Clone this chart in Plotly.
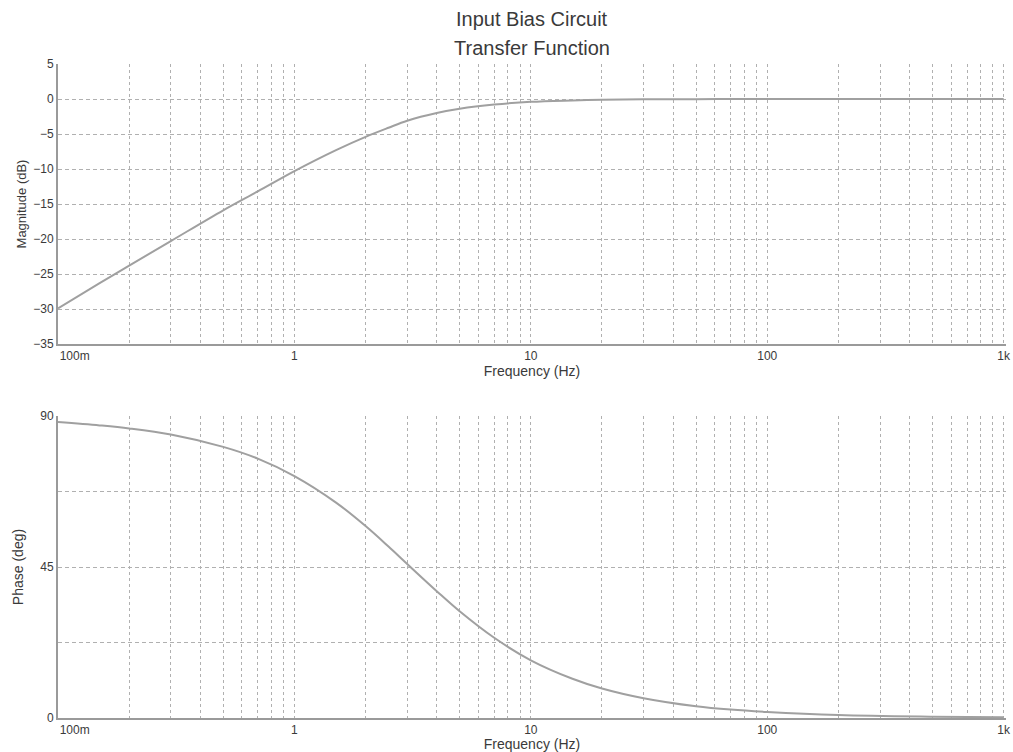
import plotly.graph_objects as go
from plotly.subplots import make_subplots

# Frequency response samples of the input bias network
freq_hz = [0.1, 0.15, 0.2, 0.3, 0.5, 0.7, 1, 1.5, 2, 2.5, 3, 4, 5, 7, 10, 15,
           20, 30, 50, 70, 100, 200, 500, 1000]
magnitude_db = [-29.9, -26.3, -23.8, -20.3, -15.9, -13.2, -10.3, -7.3, -5.4,
                -4.1, -3.1, -2.0, -1.4, -0.8, -0.4, -0.2, -0.1, -0.05, -0.02,
                -0.01, 0.0, 0.0, 0.0, 0.0]
phase_deg = [88.2, 87.2, 86.3, 84.5, 80.8, 77.3, 72.1, 64.2, 57.2, 51.1, 45.9,
             37.8, 31.8, 23.9, 17.2, 11.7, 8.8, 5.9, 3.5, 2.5, 1.8, 0.9, 0.4,
             0.2]

NBSP = "\u00a0"
x_tickvals = [0.1, 1, 10, 100, 1000]
x_ticktext = [NBSP * 10 + "100m", "1", "10", "100", "1k"]
x_minor = [m * d for d in (0.1, 1, 10, 100) for m in range(2, 10)]

mag_ticks = [5, 0, -5, -10, -15, -20, -25, -30, -35]
phase_ticks = [0, 45, 90]
phase_minor = [22.5, 67.5]

LINE = "#a0a0a0"
GRID = "#b0b0b0"
AXIS = "#9a9a9a"
TEXT = "#3a3a3a"
FONT = "Liberation Sans, Arial, sans-serif"
DASH_H = "4px,3px"
DASH_V = "3px,3px"

fig = make_subplots(rows=2, cols=1, vertical_spacing=0.11)

fig.add_trace(go.Scatter(x=freq_hz, y=magnitude_db, mode="lines",
                         line=dict(color=LINE, width=2, shape="spline"),
                         showlegend=False), row=1, col=1)
fig.add_trace(go.Scatter(x=freq_hz, y=phase_deg, mode="lines",
                         line=dict(color=LINE, width=2, shape="spline"),
                         showlegend=False), row=2, col=1)

xaxis_common = dict(
    type="log", range=[-1, 3.01], tickvals=x_tickvals, ticktext=x_ticktext,
    showgrid=True, gridcolor=GRID, griddash=DASH_V, gridwidth=1,
    minor=dict(tickvals=x_minor, showgrid=True, gridcolor=GRID,
               griddash=DASH_V, gridwidth=1, ticks=""),
    showline=True, linecolor=AXIS, linewidth=2, zeroline=False,
    ticks="", tickfont=dict(family=FONT, size=12, color=TEXT),
    ticklabeloverflow="allow", automargin=False,
    title=dict(text="Frequency (Hz)", standoff=1,
               font=dict(family=FONT, size=14, color=TEXT)),
)
fig.update_xaxes(**xaxis_common, row=1, col=1)
fig.update_xaxes(**xaxis_common, row=2, col=1)

fig.update_yaxes(range=[-35, 5], tickvals=mag_ticks,
                 showgrid=True, gridcolor=GRID, griddash=DASH_H, gridwidth=1,
                 showline=True, linecolor=AXIS, linewidth=2, zeroline=False,
                 ticks="", tickfont=dict(family=FONT, size=12, color=TEXT),
                 automargin=False,
                 title=dict(text="Magnitude (dB)", standoff=4,
                            font=dict(family=FONT, size=13, color=TEXT)),
                 row=1, col=1)
fig.update_yaxes(range=[0, 90], tickvals=phase_ticks,
                 showgrid=True, gridcolor=GRID, griddash=DASH_H, gridwidth=1,
                 minor=dict(tickvals=phase_minor, showgrid=True,
                            gridcolor=GRID, griddash=DASH_H, gridwidth=1,
                            ticks=""),
                 showline=True, linecolor=AXIS, linewidth=2, zeroline=False,
                 ticks="", tickfont=dict(family=FONT, size=12, color=TEXT),
                 automargin=False,
                 title=dict(text="Phase (deg)", standoff=13,
                            font=dict(family=FONT, size=14, color=TEXT)),
                 row=2, col=1)

fig.update_layout(
    width=1013, height=752,
    margin=dict(l=58, r=7, t=64, b=34),
    paper_bgcolor="white", plot_bgcolor="white",
    font=dict(family=FONT, color=TEXT),
    annotations=[
        dict(text="Input Bias Circuit", x=0.5, xref="paper", showarrow=False),
        dict(text="Transfer Function", x=0.5, xref="paper", showarrow=False),
    ],
)

# Place the two title lines in pixel terms relative to the plot area
plot_h = 752 - 64 - 34
for ann, py in zip(fig.layout.annotations, (19, 48)):
    ann.y = (752 - 34 - py) / plot_h
    ann.yref = "paper"
    ann.yanchor = "middle"
    ann.font = dict(family=FONT, size=20, color=TEXT)

fig.layout.yaxis.domain = [1 - (344 - 64) / plot_h, 1]
fig.layout.yaxis2.domain = [0, 1 - (416 - 64) / plot_h]

fig.write_html("out.html")
